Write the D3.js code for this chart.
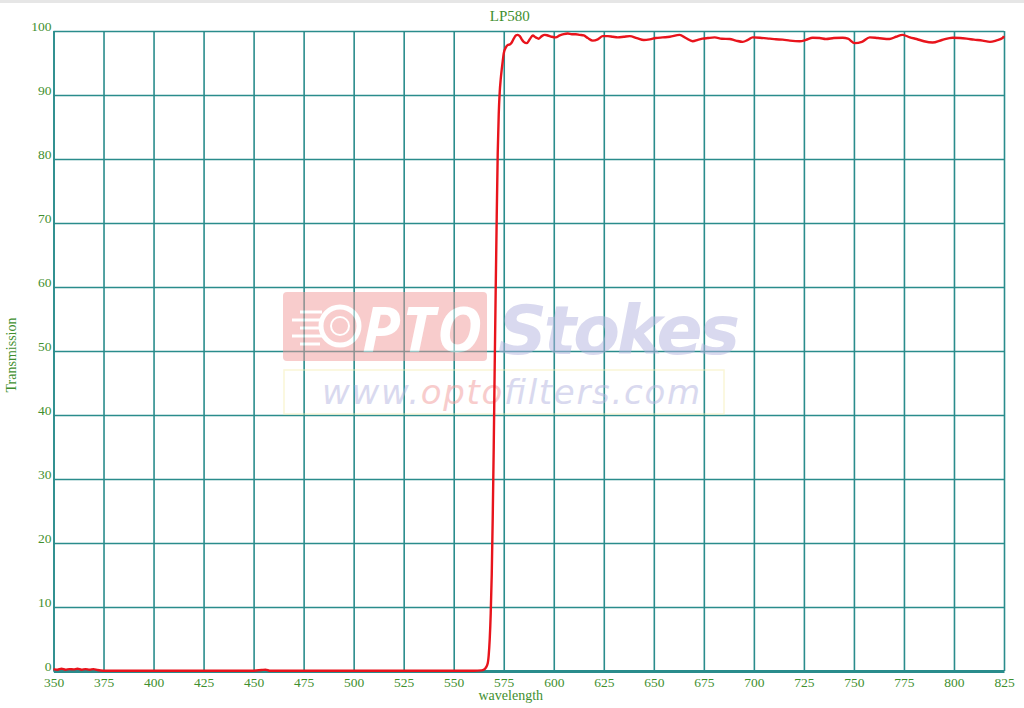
<!DOCTYPE html>
<html><head><meta charset="utf-8">
<script src="https://cdn.jsdelivr.net/npm/d3@7"></script>
<style>
html,body{margin:0;padding:0;background:#fff;}
svg{display:block;}
</style></head>
<body>
<svg id="chart" width="1024" height="708"></svg>
<script>
const title = "LP580";
const xLabel = "wavelength";
const yLabel = "Transmission";
const xTicks = [350,375,400,425,450,475,500,525,550,575,600,625,650,675,700,725,750,775,800,825];
const yTicks = [0,10,20,30,40,50,60,70,80,90,100];
const wavelengths = [350,352,354,356,358,360,362,364,366,368,370,372,375,400,425,450,454,456,458,475,500,525,550,560,564,565,566,567,567.5,568,568.5,569,569.5,570,570.5,571,571.5,572,572.5,573,573.5,574,574.5,575,576,577,578,579,580,581,582,583,584,585,586.5,588,589.5,591,592.5,594,595.5,597,599,601,603,605,607,609,611,613,615,617,619.5,622,624.5,627,629.5,632,635,638,641.5,645,648,651,654.4,658,662.9,666,669.4,672,674.4,677,680.4,684,687.9,691,694.4,697,699.4,703,707.9,711,714.4,718,722.9,726,729.4,732.9,736,740,744.4,747,750.4,754,757.9,762,767.8,771,774.3,778,781.3,785,789.3,794,799.3,803,806.3,810,814.3,818,821,824.3,825];
const transmission = [0.3,0.2,0.35,0.2,0.3,0.25,0.35,0.2,0.3,0.2,0.3,0.15,0.05,0.05,0.05,0.05,0.15,0.2,0.05,0.05,0.05,0.05,0.05,0.05,0.1,0.2,0.5,1.2,2.5,5,9,15,24,35,48,60,71,81,87,90.5,92.5,94,95.3,96.5,97.4,97.8,97.9,98.2,98.8,99.3,99.4,99.2,98.7,98.3,98.1,98.7,99.3,99.0,98.8,99.2,99.4,99.3,99.1,99.0,99.3,99.5,99.6,99.5,99.5,99.4,99.3,98.9,98.5,98.7,99.2,99.2,99.1,99.0,99.1,99.2,98.9,98.6,98.7,98.9,99.0,99.1,99.4,98.9,98.4,98.6,98.8,98.9,99.0,98.8,98.75,98.5,98.3,98.6,99.0,98.95,98.8,98.7,98.65,98.5,98.4,98.6,98.95,98.9,98.75,98.9,98.95,98.8,98.1,98.3,99.0,98.9,98.75,99.1,99.4,99.0,98.75,98.4,98.2,98.6,98.95,98.9,98.8,98.65,98.5,98.3,98.5,98.9,99.2,99.4];

const svg = d3.select("#chart");
const W = 1024, H = 708;
const L = 53.5, R = 1004, T = 31, B = 671;
const textColor = "#3f8f2f";
const gridColor = "#2a8c8c";
const serif = "'Liberation Serif','Times New Roman',serif";

svg.append("rect").attr("x",0).attr("y",0).attr("width",W).attr("height",3).attr("fill","#e6e6e6");

const x = d3.scaleLinear().domain([350,825]).range([L,R]);
const y = d3.scaleLinear().domain([0,100]).range([B,T]);

// grid via axes
const gx = svg.append("g").attr("transform",`translate(0,${B})`)
  .call(d3.axisBottom(x).tickValues(xTicks).tickSize(-(B-T)).tickSizeOuter(0).tickFormat(d3.format("d")));
gx.select(".domain").attr("stroke",gridColor).attr("stroke-width",3);
gx.selectAll(".tick line").attr("stroke",gridColor).attr("stroke-width",1.6);
gx.selectAll(".tick text").attr("fill",textColor).attr("font-family",serif).attr("font-size",13.5)
  .attr("y",6).attr("dy","0.71em");

const gy = svg.append("g").attr("transform",`translate(${L},0)`)
  .call(d3.axisLeft(y).tickValues(yTicks).tickSize(-(R-L)).tickSizeOuter(0).tickFormat(d3.format("d")));
gy.select(".domain").attr("stroke",gridColor).attr("stroke-width",1.6);
gy.selectAll(".tick line").attr("stroke",gridColor).attr("stroke-width",1.6);
gy.selectAll(".tick text").attr("fill",textColor).attr("font-family",serif).attr("font-size",13.5)
  .attr("x",-2).attr("dy","-0.05em");

// watermark
const wm = svg.append("g").attr("opacity",0.5);
wm.append("rect").attr("x",283).attr("y",292).attr("width",204).attr("height",69).attr("rx",4).attr("fill","#f29a9a");
wm.append("circle").attr("cx",340).attr("cy",326).attr("r",19).attr("fill","none").attr("stroke","#fff").attr("stroke-width",5);
wm.append("circle").attr("cx",340).attr("cy",326).attr("r",9).attr("fill","none").attr("stroke","#fff").attr("stroke-width",2);
[[300,312,22],[292,320,30],[300,328,22],[292,336,30],[300,344,20]].forEach(d=>{
  wm.append("line").attr("x1",d[0]).attr("x2",d[0]+d[2]).attr("y1",d[1]).attr("y2",d[1]).attr("stroke","#fff").attr("stroke-width",3);
});
wm.append("text").attr("x",362).attr("y",352).attr("font-family","'Open Sans','DejaVu Sans',sans-serif").attr("font-style","italic").attr("font-weight","bold")
  .attr("font-size",62).attr("fill","#fff").attr("letter-spacing",2).text("PTO");
wm.append("text").attr("x",498).attr("y",354).attr("font-family","'DejaVu Sans',sans-serif").attr("font-style","italic").attr("font-weight","bold")
  .attr("font-size",68).attr("fill","#b4b4e0").attr("textLength",242).text("Stokes");
wm.append("rect").attr("x",284).attr("y",370).attr("width",440).attr("height",44).attr("fill","none").attr("stroke","#f6efb0").attr("stroke-width",1.5);
const url = wm.append("text").attr("x",322).attr("y",404).attr("font-family","'DejaVu Sans',sans-serif").attr("font-style","italic")
  .attr("font-size",34).attr("textLength",378);
url.append("tspan").attr("fill","#b4b4e0").text("www.");
url.append("tspan").attr("fill","#f29a9a").text("opto");
url.append("tspan").attr("fill","#b4b4e0").text("filters.com");

// curve
const data = wavelengths.map((w,i)=>({w, t: transmission[i]}));
svg.append("path").datum(data)
  .attr("fill","none").attr("stroke","#e8141c").attr("stroke-width",2.4).attr("stroke-linejoin","round")
  .attr("d", d3.line().x(d=>x(d.w)).y(d=>y(d.t)).curve(d3.curveMonotoneX));

// texts
svg.append("text").attr("x",(L+R)/2-19).attr("y",21).attr("text-anchor","middle").attr("fill",textColor)
  .attr("font-family",serif).attr("font-size",15).text(title);
svg.append("text").attr("x",(L+R)/2-18).attr("y",700).attr("text-anchor","middle").attr("fill",textColor)
  .attr("font-family",serif).attr("font-size",14).text(xLabel);
svg.append("text").attr("transform","translate(16,355) rotate(-90)").attr("text-anchor","middle").attr("fill",textColor)
  .attr("font-family",serif).attr("font-size",14).text(yLabel);
</script>
</body></html>
